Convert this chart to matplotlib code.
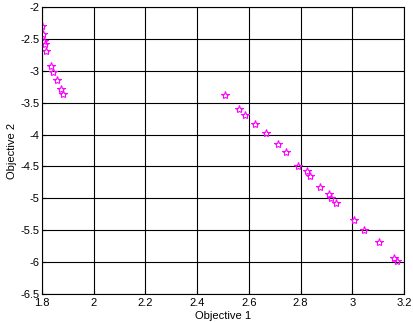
import matplotlib
matplotlib.use("Agg")
import matplotlib.pyplot as plt

plt.rcParams['font.family'] = ['Liberation Sans', 'DejaVu Sans']
plt.rcParams['axes.unicode_minus'] = False

# Pareto front
obj1 = [1.801, 1.804, 1.808, 1.810, 1.817, 1.834, 1.841, 1.857, 1.872, 1.880,
        2.508, 2.562, 2.584, 2.623, 2.665, 2.713, 2.742, 2.790, 2.824, 2.836,
        2.875, 2.910, 2.916, 2.937, 3.006, 3.046, 3.103, 3.161, 3.172]
obj2 = [-2.293, -2.428, -2.528, -2.585, -2.69, -2.92, -3.02, -3.15, -3.29, -3.37,
        -3.384, -3.594, -3.688, -3.84, -3.98, -4.14, -4.28, -4.49, -4.566, -4.644,
        -4.826, -4.936, -5.0, -5.067, -5.334, -5.495, -5.683, -5.93, -5.98]

xticks = [1.8, 2, 2.2, 2.4, 2.6, 2.8, 3, 3.2]
yticks = [-6.5, -6, -5.5, -5, -4.5, -4, -3.5, -3, -2.5, -2]

fig = plt.figure(figsize=(4.14, 3.22), dpi=100)
ax = fig.add_axes([0.1014, 0.087, 0.8744, 0.891])

ax.plot(obj1, obj2, linestyle='none', marker='*', markersize=6,
        markerfacecolor='none', markeredgecolor='#ff00ff', markeredgewidth=0.8)

ax.set_xlim(1.8, 3.2)
ax.set_ylim(-6.5, -2)
ax.set_xticks(xticks)
ax.set_xticklabels([f"{t:g}" for t in xticks])
ax.set_yticks(yticks)
ax.set_yticklabels([f"{t:g}" for t in yticks])
ax.grid(True, color='black', linewidth=0.8, linestyle='-')
ax.tick_params(direction='in', labelsize=8, length=3, pad=2)
ax.tick_params(axis='x', pad=3)
for s in ax.spines.values():
    s.set_linewidth(0.8)

ax.set_xlabel('Objective 1', fontsize=8, labelpad=2)
ax.set_ylabel('Objective 2', fontsize=8, labelpad=2)

fig.savefig('out.png', dpi=100)
